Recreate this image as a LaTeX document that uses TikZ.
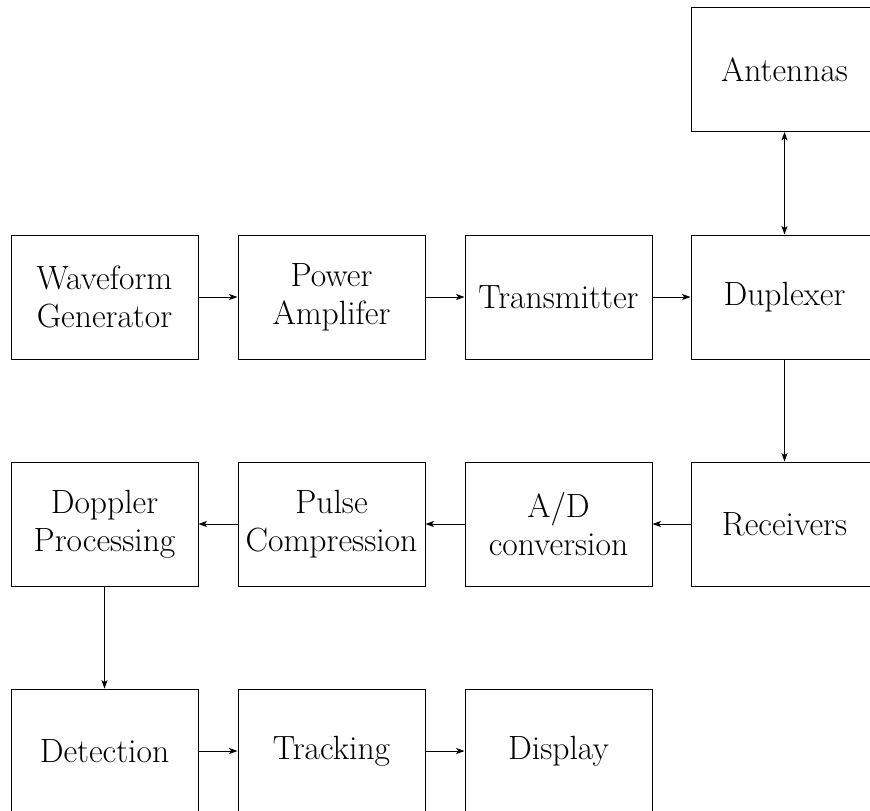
\documentclass[tikz,border=0pt]{standalone}
\usetikzlibrary{arrows.meta}
\begin{document}
\begin{tikzpicture}[x=0.5pt,y=-0.5pt,
  block/.style={draw,line width=0.5pt,minimum width=93.5pt,minimum height=62pt,
    inner sep=0pt,align=center,font=\fontsize{16.8}{19.2}\selectfont},
  link/.style={line width=0.45pt,-{Stealth[length=4.2pt,width=3pt,inset=1pt]}},
  dlink/.style={line width=0.45pt,{Stealth[length=4.2pt,width=3pt,inset=1pt]}-{Stealth[length=4.2pt,width=3pt,inset=1pt]}}]
\useasboundingbox (0,0) rectangle (870,810);
\clip (0,0) rectangle (870,810);
% top row: antenna feed
\node[block] (ant) at (784.5,69.5) {Antennas};
% transmit chain
\node[block] (wave) at (104.5,297) {Waveform\\Generator};
\node[block] (pa)   at (331.5,297) {Power\\Amplifer};
\node[block] (tx)   at (558.5,297) {Transmitter};
\node[block] (dup)  at (784.5,297) {Duplexer};
% receive chain
\node[block] (rx)   at (784.5,524) {Receivers};
\node[block] (adc)  at (558.5,524) {A/D\\conversion};
\node[block] (pc)   at (331.5,524) {Pulse\\Compression};
\node[block] (dop)  at (104.5,524) {Doppler\\Processing};
% back end
\node[block] (det)  at (104.5,751) {Detection};
\node[block] (trk)  at (331.5,751) {Tracking};
\node[block] (disp) at (558.5,751) {Display};
% connectors
\draw[dlink] (ant) -- (dup);
\draw[link] (wave) -- (pa);
\draw[link] (pa) -- (tx);
\draw[link] (tx) -- (dup);
\draw[link] (dup) -- (rx);
\draw[link] (rx) -- (adc);
\draw[link] (adc) -- (pc);
\draw[link] (pc) -- (dop);
\draw[link] (dop) -- (det);
\draw[link] (det) -- (trk);
\draw[link] (trk) -- (disp);
\end{tikzpicture}
\end{document}
